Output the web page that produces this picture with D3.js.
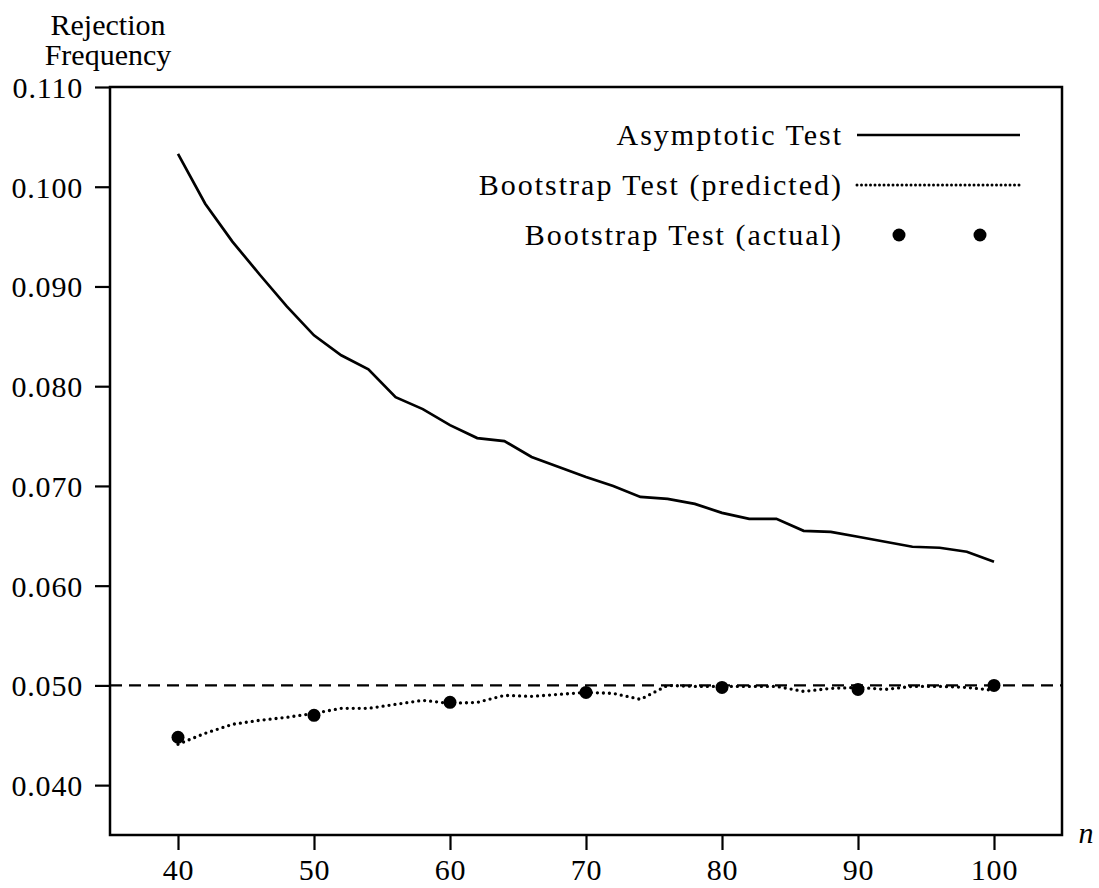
<!DOCTYPE html>
<html lang="en">
    <head>
        <meta charset="utf-8">
        <title>Rejection Frequency</title>
        <script src="https://d3js.org/d3.v7.min.js" charset="utf-8"></script>
        <style>
            body { margin: 0; background: #fff; }
            text { font-family: "Liberation Serif", "Times New Roman", serif; fill: #000; }
        </style>
    </head>
    <body>
        <script type="text/javascript">
            // sample sizes and rejection frequencies
            var nValues = [40,42,44,46,48,50,52,54,56,58,60,62,64,66,68,70,
                           72,74,76,78,80,82,84,86,88,90,92,94,96,98,100];
            var asymptotic = [0.1033,0.0983,0.0945,0.0912,0.0880,0.0851,0.0831,0.0817,
                              0.0789,0.0777,0.0761,0.0748,0.0745,0.0729,0.0719,0.0709,
                              0.0700,0.0689,0.0687,0.0682,0.0673,0.0667,0.0667,0.0655,
                              0.0654,0.0649,0.0644,0.0639,0.0638,0.0634,0.0624];
            var predicted = [0.0441,0.0452,0.0461,0.0465,0.0468,0.0472,0.0477,0.0477,
                             0.0481,0.0485,0.0482,0.0483,0.0490,0.0489,0.0491,0.0493,
                             0.0492,0.0486,0.0500,0.0499,0.0499,0.0499,0.0499,0.0494,
                             0.0497,0.0498,0.0496,0.0499,0.0499,0.0498,0.0495];
            var actualN = [40,50,60,70,80,90,100];
            var actual = [0.0448,0.0470,0.0483,0.0493,0.0498,0.0496,0.0500];
            var nominal = 0.05;
            var xTicks = [40,50,60,70,80,90,100];
            var yTicks = [0.040,0.050,0.060,0.070,0.080,0.090,0.100,0.110];
            var legendLabels = ["Asymptotic Test", "Bootstrap Test (predicted)", "Bootstrap Test (actual)"];

            var width = 1099, height = 888;
            var margin = { left: 110, right: 1062, top: 87, bottom: 835 };

            var svg = d3.select("body").append("svg")
                .attr("width", width)
                .attr("height", height);

            var x = d3.scaleLinear().domain([35, 105]).range([margin.left, margin.right]);
            var y = d3.scaleLinear().domain([0.035, 0.110]).range([margin.bottom, margin.top]);

            // axes
            var yAxis = svg.append("g")
                .attr("transform", "translate(" + margin.left + ",0)")
                .call(d3.axisLeft(y).tickValues(yTicks).tickFormat(d3.format(".3f"))
                      .tickSize(15).tickSizeOuter(0).tickPadding(12));
            var xAxis = svg.append("g")
                .attr("transform", "translate(0," + margin.bottom + ")")
                .call(d3.axisBottom(x).tickValues(xTicks).tickFormat(d3.format("d"))
                      .tickSize(15).tickSizeOuter(0).tickPadding(9));
            [yAxis, xAxis].forEach(function(a) {
                a.select(".domain").remove();
                a.selectAll("line").attr("stroke", "#000").attr("stroke-width", 2.2);
                a.selectAll("text").attr("font-family", "Liberation Serif").attr("font-size", 30)
                    .attr("letter-spacing", 0.8);
            });
            yAxis.selectAll("text").attr("dy", "0.35em");

            // frame
            svg.append("rect")
                .attr("x", margin.left).attr("y", margin.top)
                .attr("width", margin.right - margin.left)
                .attr("height", margin.bottom - margin.top)
                .attr("fill", "none").attr("stroke", "#000").attr("stroke-width", 2.5);

            // nominal level
            svg.append("line")
                .attr("x1", margin.left).attr("x2", margin.right)
                .attr("y1", y(nominal)).attr("y2", y(nominal))
                .attr("stroke", "#000").attr("stroke-width", 2.2)
                .attr("stroke-dasharray", "12,7");

            var line = d3.line()
                .x(function(d) { return x(d[0]); })
                .y(function(d) { return y(d[1]); });

            svg.append("path")
                .datum(d3.zip(nValues, asymptotic))
                .attr("d", line)
                .attr("fill", "none").attr("stroke", "#000").attr("stroke-width", 2.7);

            svg.append("path")
                .datum(d3.zip(nValues, predicted))
                .attr("d", line)
                .attr("fill", "none").attr("stroke", "#000").attr("stroke-width", 3.3)
                .attr("stroke-linecap", "round")
                .attr("stroke-dasharray", "0,6");

            svg.selectAll(".actual")
                .data(d3.zip(actualN, actual))
                .enter().append("circle")
                .attr("class", "actual")
                .attr("cx", function(d) { return x(d[0]); })
                .attr("cy", function(d) { return y(d[1]); })
                .attr("r", 6.5)
                .attr("fill", "#000");

            // axis titles
            svg.append("text").attr("x", 108).attr("y", 35)
                .attr("text-anchor", "middle").attr("font-size", 30).text("Rejection");
            svg.append("text").attr("x", 108).attr("y", 65)
                .attr("text-anchor", "middle").attr("font-size", 30).text("Frequency");
            svg.append("text").attr("x", 1086).attr("y", 843)
                .attr("text-anchor", "middle").attr("font-size", 30)
                .attr("font-style", "italic").text("n");

            // legend
            var legend = svg.append("g");
            var rowY = [135, 185, 235];
            legendLabels.forEach(function(label, i) {
                legend.append("text")
                    .attr("x", 843).attr("y", rowY[i] + 10)
                    .attr("text-anchor", "end").attr("font-size", 30)
                    .attr("letter-spacing", 2)
                    .text(label);
            });
            legend.append("line")
                .attr("x1", 857).attr("x2", 1020).attr("y1", rowY[0]).attr("y2", rowY[0])
                .attr("stroke", "#000").attr("stroke-width", 2.7);
            legend.append("line")
                .attr("x1", 857).attr("x2", 1020).attr("y1", rowY[1]).attr("y2", rowY[1])
                .attr("stroke", "#000").attr("stroke-width", 3)
                .attr("stroke-linecap", "round").attr("stroke-dasharray", "0,4.5");
            legend.selectAll(".legdot")
                .data([899, 980])
                .enter().append("circle")
                .attr("class", "legdot")
                .attr("cx", function(d) { return d; })
                .attr("cy", rowY[2])
                .attr("r", 6.5)
                .attr("fill", "#000");
        </script>
    </body>
</html>
